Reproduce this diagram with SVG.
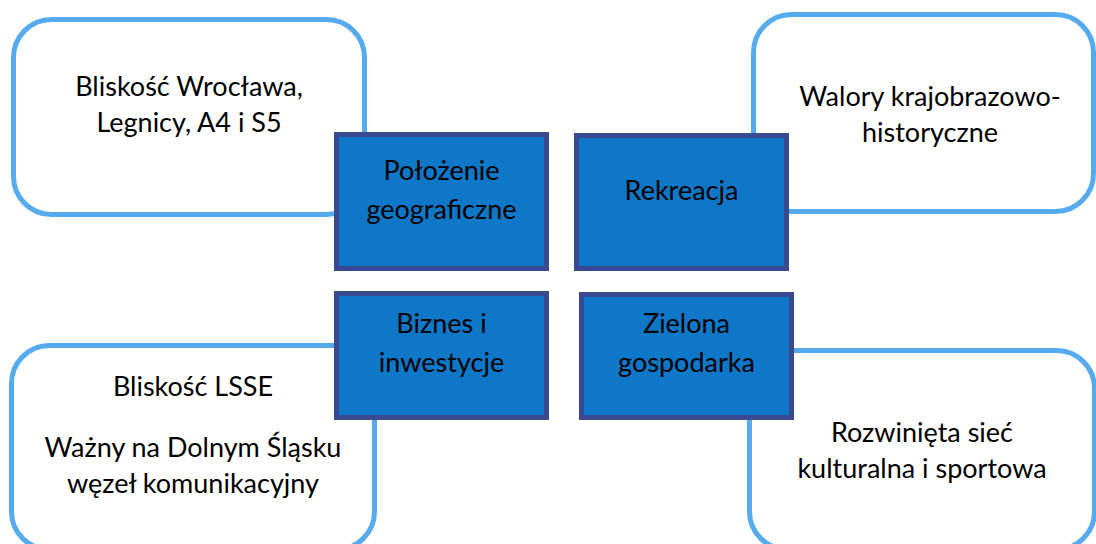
<svg xmlns="http://www.w3.org/2000/svg" width="1096" height="544" viewBox="0 0 1096 544">
<style>
.outer{fill:#ffffff;stroke:#56ABEF;stroke-width:5}
.inner{fill:#0E77C8;stroke:#3A4A92;stroke-width:5}
.t{font-family:Lato,"Liberation Sans",sans-serif;font-size:27px;fill:#000000;text-anchor:middle}
</style>
<rect width="1096" height="544" fill="#ffffff"/>
<g id="n-blisko-wroclawia">
<rect class="outer" x="13.5" y="19.5" width="351" height="195" rx="38"/>
<text class="t" x="189" y="96">Bliskość Wrocława,</text>
<text class="t" x="189" y="132">Legnicy, A4 i S5</text>
</g>
<g id="n-walory">
<rect class="outer" x="753.5" y="14.5" width="340" height="197" rx="38"/>
<text class="t" x="930" y="106">Walory krajobrazowo-</text>
<text class="t" x="930" y="142">historyczne</text>
</g>
<g id="n-lsse">
<rect class="outer" x="11.5" y="345.5" width="363" height="204" rx="38"/>
<text class="t" x="193" y="396">Bliskość LSSE</text>
<text class="t" x="193" y="457">Ważny na Dolnym Śląsku</text>
<text class="t" x="193" y="493">węzeł komunikacyjny</text>
</g>
<g id="n-siec">
<rect class="outer" x="749.5" y="350.5" width="345" height="199" rx="38"/>
<text class="t" x="922" y="442">Rozwinięta sieć</text>
<text class="t" x="922" y="478">kulturalna i sportowa</text>
</g>
<g id="n-polozenie">
<rect class="inner" x="336.5" y="134.5" width="210" height="134"/>
<text class="t" x="441.5" y="180">Położenie</text>
<text class="t" x="441.5" y="219">geograficzne</text>
</g>
<g id="n-rekreacja">
<rect class="inner" x="576.5" y="135.5" width="210" height="133"/>
<text class="t" x="681.5" y="200">Rekreacja</text>
</g>
<g id="n-biznes">
<rect class="inner" x="336.5" y="293.5" width="210" height="124"/>
<text class="t" x="441.5" y="333">Biznes i</text>
<text class="t" x="441.5" y="372">inwestycje</text>
</g>
<g id="n-zielona">
<rect class="inner" x="581.5" y="294.5" width="210" height="123"/>
<text class="t" x="686.5" y="333">Zielona</text>
<text class="t" x="686.5" y="372">gospodarka</text>
</g>
<g id="connectors"/>
</svg>
